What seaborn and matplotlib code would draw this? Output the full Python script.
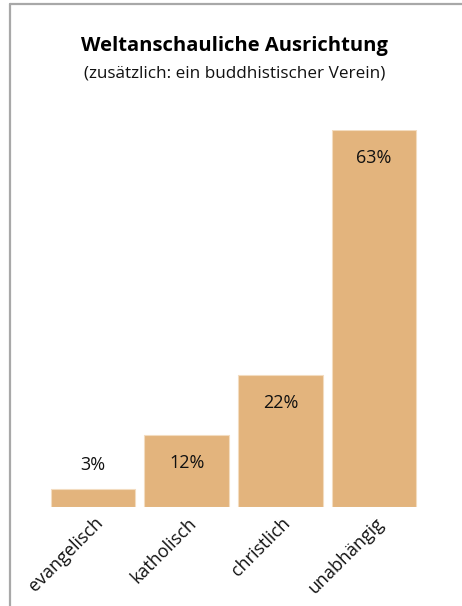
import matplotlib
matplotlib.use("Agg")
import matplotlib.pyplot as plt
import matplotlib.transforms as mtrans
import seaborn as sns
import pandas as pd
from matplotlib.lines import Line2D

categories = ["evangelisch", "katholisch", "christlich", "unabhängig"]
shares = [3, 12, 22, 63]
value_labels = ["3%", "12%", "22%", "63%"]

BAR_COLOR = "#E3B47D"

sns.set_style("white")
plt.rcParams["font.family"] = ["Open Sans", "DejaVu Sans"]

df = pd.DataFrame({"kategorie": categories, "anteil": shares})

fig = plt.figure(figsize=(4.62, 6.06), dpi=100)
ax = fig.add_axes([46 / 462, 99 / 606, 375 / 462, 377 / 606])

sns.barplot(data=df, x="kategorie", y="anteil", color=BAR_COLOR,
            saturation=1, width=0.9, edgecolor="#F3DCC0", linewidth=0.8, ax=ax)

ax.set_xlim(-0.5, 3.5)
ax.set_ylim(0, 63)
ax.set_xlabel("")
ax.set_ylabel("")
ax.set_yticks([])
sns.despine(ax=ax, left=True, bottom=True)
ax.tick_params(axis="x", length=0, pad=5)
ax.set_xticks(range(len(categories)))
ax.set_xticklabels(categories, rotation=45, ha="right", rotation_mode="anchor",
                   fontsize=13, color="#111111")
offset = mtrans.ScaledTranslation(1 / 100, 0, fig.dpi_scale_trans)
for lbl in ax.get_xticklabels():
    lbl.set_transform(lbl.get_transform() + offset)

# value labels: inside bar, except the small bar gets its label above
for i, (v, t) in enumerate(zip(shares, value_labels)):
    dy = 17 if v < 6 else -20
    ax.annotate(t, (i, v), xytext=(0, dy), textcoords="offset points",
                ha="center", va="center", fontsize=13, color="#111111")

fig.text(234 / 462, 1 - 46 / 606, "Weltanschauliche Ausrichtung", ha="center",
         va="center", fontsize=14.5, fontweight="bold", color="#000000")
fig.text(235 / 462, 1 - 73 / 606, "(zusätzlich: ein buddhistischer Verein)",
         ha="center", va="center", fontsize=12.3, color="#111111")

# frame lines top and left
fig.add_artist(Line2D([10 / 462, 1], [1 - 4 / 606, 1 - 4 / 606],
                      transform=fig.transFigure, color="#A8A8A8", linewidth=1.6))
fig.add_artist(Line2D([10 / 462, 10 / 462], [0, 1 - 4 / 606],
                      transform=fig.transFigure, color="#A8A8A8", linewidth=1.6))

fig.savefig("out.png", dpi=100)
